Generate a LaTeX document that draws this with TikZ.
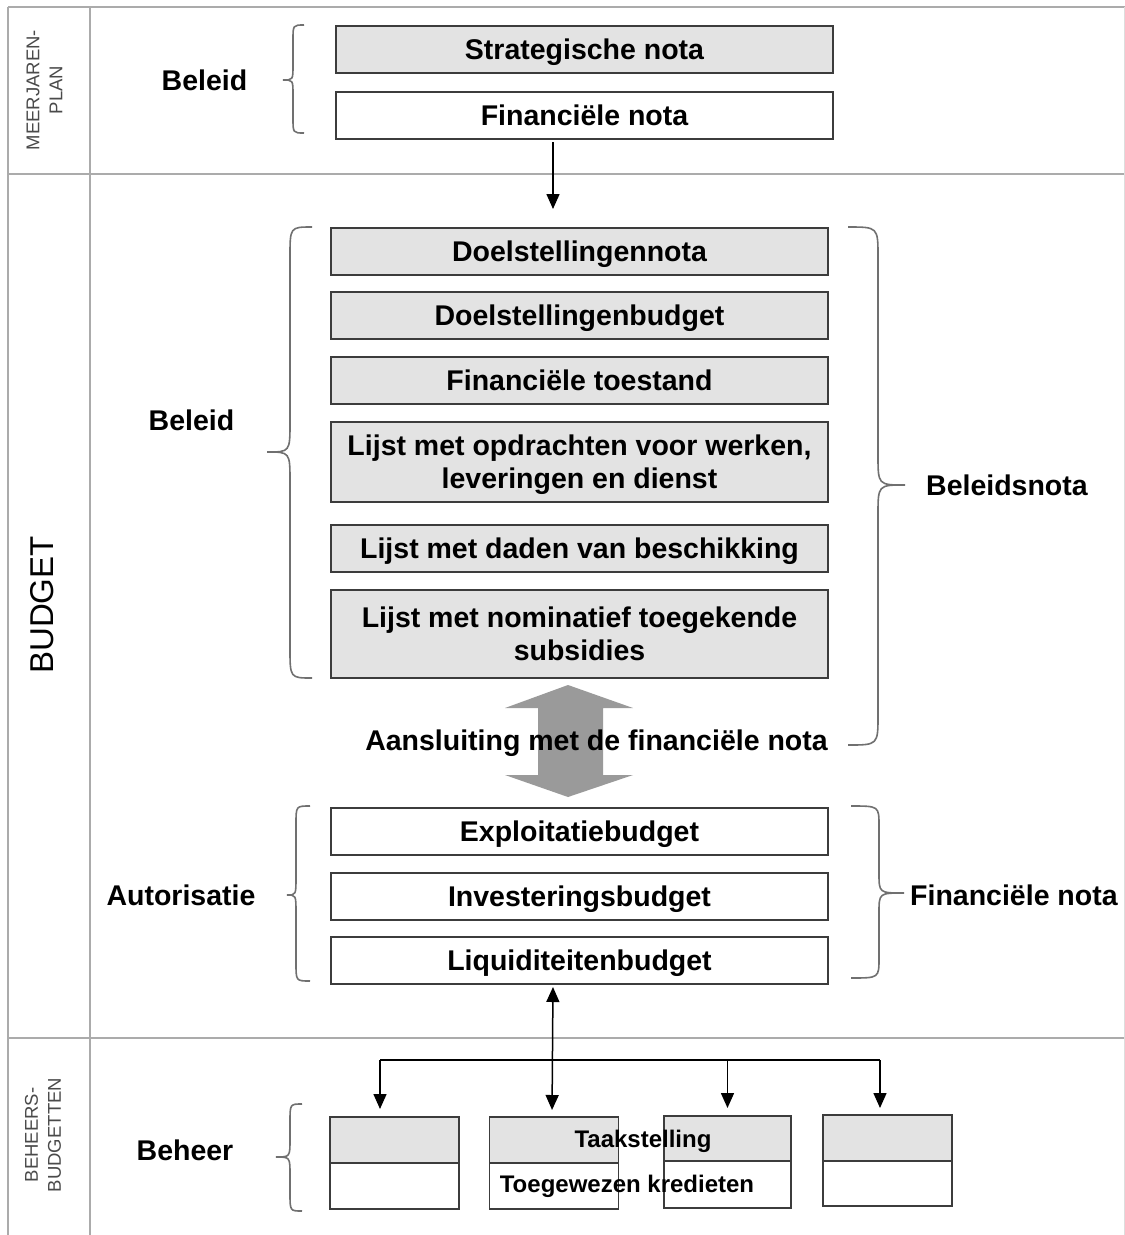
\documentclass[tikz,border=0pt]{standalone}
\usepackage{fontspec}
\setmainfont{Liberation Sans}
\usetikzlibrary{arrows.meta}
\definecolor{boxfill}{HTML}{E3E3E3}
\definecolor{boxline}{HTML}{3C3C3C}
\definecolor{frameline}{HTML}{ABABAB}
\definecolor{bracecol}{HTML}{707070}
\definecolor{bigarrow}{HTML}{9A9A9A}
\definecolor{sidecol}{HTML}{4A4A4A}
% brace: #1 end x, #2 vertical x, #3 tip x, #4 top y, #5 tip y, #6 bottom y, #7 radius
\newcommand{\mybrace}[7]{\draw[brace] (#1,#4) .. controls (#2,#4) .. (#2,{#4+#7}) -- (#2,{#5-#7}) .. controls (#2,#5) .. (#3,#5) .. controls (#2,#5) .. (#2,{#5+#7}) -- (#2,{#6-#7}) .. controls (#2,#6) .. (#1,#6);}
\begin{document}
\begin{tikzpicture}[x=1pt,y=-1pt,
  box/.style={draw=boxline, line width=1.4pt, minimum width=497pt, minimum height=47pt, inner sep=0pt, outer sep=0pt, text depth=0pt, font=\bfseries\fontsize{28.5}{33}\selectfont, align=center},
  gbox/.style={box, fill=boxfill},
  lab/.style={font=\bfseries\fontsize{28.5}{33}\selectfont, inner sep=0pt, text depth=0pt},
  side/.style={font=\fontsize{18.5}{23}\selectfont, text=sidecol, rotate=90, align=center, inner sep=0pt},
  frame/.style={draw=frameline, line width=1.8pt},
  brace/.style={draw=bracecol, line width=1.6pt},
  arr/.style={draw=black, line width=1.5pt, -{Triangle[length=15pt,width=13pt]}},
  darr/.style={draw=black, line width=1.5pt, {Triangle[length=15pt,width=13pt]}-{Triangle[length=15pt,width=13pt]}},
  sbox/.style={draw=boxline, line width=1.4pt, minimum width=129pt, inner sep=0pt, outer sep=0pt},
  small/.style={font=\bfseries\fontsize{24}{28}\selectfont, inner sep=0pt, text depth=0pt}]
\useasboundingbox (0,0) rectangle (1125,1235);
\fill[white] (0,0) rectangle (1125,1235);
% frame
\draw[frame] (8,7) -- (1125,7);
\draw[frame] (8,174) -- (1125,174);
\draw[frame] (8,1038) -- (1125,1038);
\draw[frame] (8,7) -- (8,1235);
\draw[frame] (90,7) -- (90,1235);
\draw[draw=frameline!40, line width=1pt] (1124,7) -- (1124,1235);
% side labels
\node[side] (smp) at (44.5,90) {MEERJAREN-\\PLAN};
\node[side, font=\fontsize{33}{38}\selectfont, text=black] (sbud) at (42,605) {BUDGET};
\node[side] (sbb) at (43,1135) {BEHEERS-\\BUDGETTEN};
% meerjarenplan
\node[gbox] (strat) at (584.5,49.5) {Strategische nota};
\node[box] (fin) at (584.5,115.5) {Financiële nota};
\node[lab] (bel1) at (204.5,80) {Beleid};
\mybrace{304}{293}{283}{25}{80}{133}{15}
% budget - beleid
\node[gbox] (dnota) at (579.5,251.5) {Doelstellingennota};
\node[gbox] (dbud) at (579.5,315.5) {Doelstellingenbudget};
\node[gbox] (ftoe) at (579.5,380.5) {Financiële toestand};
\node[gbox, minimum height=80pt] (lopd) at (579.5,462) {Lijst met opdrachten voor werken,\\leveringen en dienst};
\node[gbox] (ldad) at (579.5,548.5) {Lijst met daden van beschikking};
\node[gbox, minimum height=88pt] (lnom) at (579.5,634) {Lijst met nominatief toegekende\\subsidies};
\node[lab] (bel2) at (191.5,420) {Beleid};
\mybrace{312}{290}{267}{227}{452}{678}{30}
\mybrace{848}{878}{905}{227}{485}{745}{30}
\node[lab, anchor=west] (belnota) at (926,485) {Beleidsnota};
% arrow from financiele nota
\draw[arr, shorten <=3pt, shorten >=19pt] ([xshift=-31.5pt]fin.south) -- ([xshift=-26.5pt]dnota.north);
% big double arrow
\fill[bigarrow] (568,685) -- (633,708) -- (603,708) -- (603,775) -- (633,775) -- (568,797) -- (505,775) -- (538,775) -- (538,708) -- (505,708) -- cycle;
\node[lab] (aans) at (596.5,740) {Aansluiting met de financiële nota};
% autorisatie
\node[box] (expl) at (579.5,831.5) {Exploitatiebudget};
\node[box] (inv) at (579.5,896.5) {Investeringsbudget};
\node[box] (liq) at (579.5,960.5) {Liquiditeitenbudget};
\node[lab] (aut) at (181,895) {Autorisatie};
\mybrace{310}{296}{287}{806}{895}{981}{18}
\mybrace{851}{879}{904}{806}{893}{978}{20}
\node[lab, anchor=west] (finnota) at (910,895) {Financiële nota};
% beheer
\node[lab] (beh) at (185,1150) {Beheer};
\mybrace{302}{290}{276}{1104}{1157}{1211}{18}
\node[sbox, fill=boxfill, minimum height=46pt] (b1t) at (394.5,1140) {};
\node[sbox, minimum height=46pt] (b1b) at (394.5,1186) {};
\node[sbox, fill=boxfill, minimum height=46pt] (b2t) at (554,1140) {};
\node[sbox, minimum height=46pt] (b2b) at (554,1186) {};
\node[sbox, fill=boxfill, minimum height=45pt, minimum width=127pt] (b3t) at (727.5,1138.5) {};
\node[sbox, minimum height=47pt, minimum width=127pt] (b3b) at (727.5,1184.5) {};
\node[sbox, fill=boxfill, minimum height=46pt] (b4t) at (887.5,1138) {};
\node[sbox, minimum height=45pt] (b4b) at (887.5,1183.5) {};
\node[small] (taak) at (643,1139) {Taakstelling};
\node[small] (toeg) at (627,1184) {Toegewezen kredieten};
% arrows to beheersbudgetten
\coordinate (h1) at (380,1060);
\coordinate (h4) at (880,1060);
\draw[line width=1.5pt] (h1) -- (h4);
\draw[darr, shorten <=3pt, shorten >=7pt] ([xshift=-26.5pt]liq.south) -- ([xshift=-2pt]b2t.north);
\draw[arr, shorten >=8pt] (h1) -- (h1 |- b1t.north);
\draw[arr, shorten >=8pt] (h1 -| b3t.north) -- (b3t.north);
\draw[arr, shorten >=7pt] (h4) -- (h4 |- b4t.north);
\end{tikzpicture}
\end{document}
